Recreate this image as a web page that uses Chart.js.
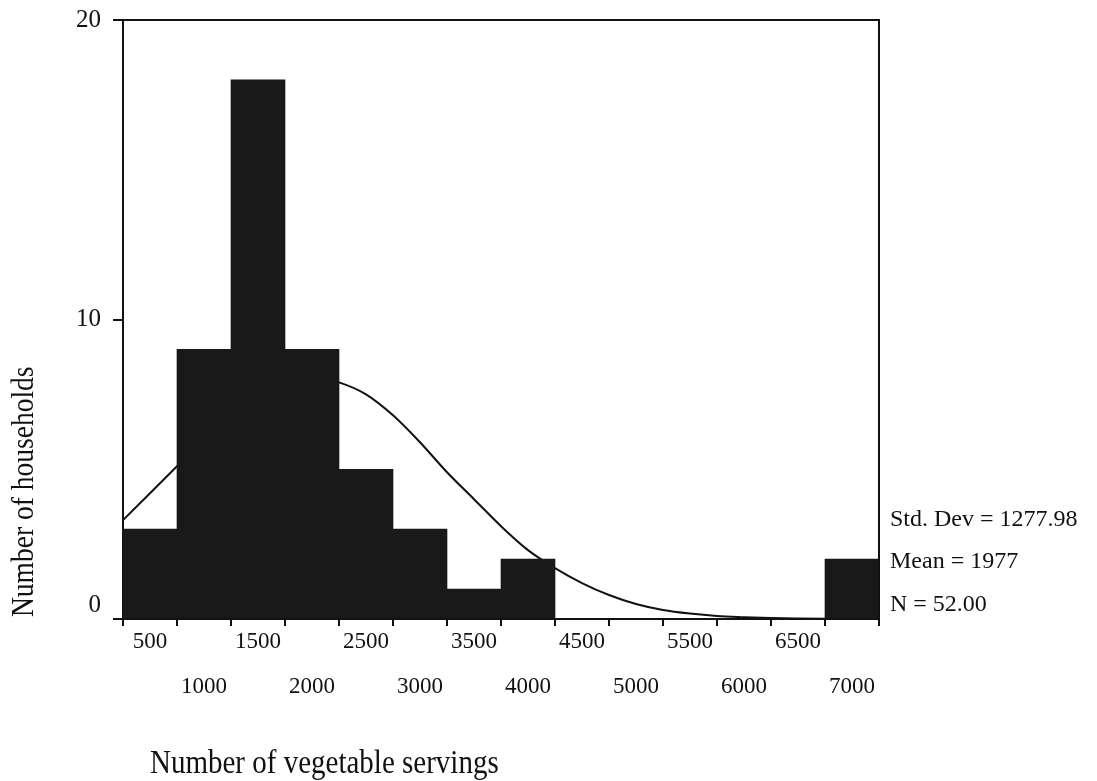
<!DOCTYPE html>
<html>
<head>
<meta charset="utf-8">
<script src="https://cdn.jsdelivr.net/npm/chart.js@4/dist/chart.umd.min.js"></script>
<style>
  html, body { margin: 0; padding: 0; background: #ffffff; }
  #c { display: block; }
</style>
</head>
<body>
<canvas id="c" width="1097" height="781"></canvas>
<script>
// Histogram bins (centre of each 500-serving bin) and household counts
const binCenters = [500, 1000, 1500, 2000, 2500, 3000, 3500, 4000, 4500, 5000, 5500, 6000, 6500, 7000];
const householdCounts = [3, 9, 18, 9, 5, 3, 1, 2, 0, 0, 0, 0, 0, 2];

// Fitted normal curve, sampled every 250 servings
const curveX = [250, 500, 750, 1000, 1250, 1500, 1750, 2000, 2250, 2500, 2750, 3000, 3250, 3500,
                3750, 4000, 4250, 4500, 4750, 5000, 5250, 5500, 5750, 6000, 6250, 6500, 6750, 7000, 7250];
const curveY = [3.3, 4.2, 5.1, 6.0, 6.9, 7.6, 8.0, 8.1, 7.9, 7.5, 6.8, 5.9, 4.9, 4.0,
                3.1, 2.3, 1.7, 1.2, 0.8, 0.5, 0.3, 0.18, 0.1, 0.06, 0.03, 0.015, 0.007, 0.003, 0.001];

// Axis ticks and texts
const xTickValues = [500, 1000, 1500, 2000, 2500, 3000, 3500, 4000, 4500, 5000, 5500, 6000, 6500, 7000];
const yTickValues = [0, 10, 20];
const statLines = ['Std. Dev = 1277.98', 'Mean = 1977', 'N = 52.00'];
const xTitle = 'Number of vegetable servings';
const yTitle = 'Number of households';

const INK = '#111111';
const SERIF = '"Liberation Serif", "DejaVu Serif", serif';

// Plot box inside the 1097x781 canvas
const PLOT = { left: 123, right: 879, top: 20, bottom: 619 };
const W = 1097, H = 781;

const barData = binCenters.map((x, i) => ({ x: x, y: householdCounts[i] }));
const lineData = curveX.map((x, i) => ({ x: x, y: curveY[i] }));

const decorations = {
  id: 'decorations',
  afterDraw(chart) {
    const ctx = chart.ctx;
    const area = chart.chartArea;
    const ys = chart.scales.y;
    ctx.save();

    // top and right frame lines
    ctx.strokeStyle = INK;
    ctx.lineWidth = 2;
    ctx.beginPath();
    ctx.moveTo(area.left, area.top);
    ctx.lineTo(area.right, area.top);
    ctx.lineTo(area.right, area.bottom);
    ctx.stroke();

    // y tick labels (the bottom one sits just above the axis line)
    ctx.fillStyle = INK;
    ctx.font = '25px ' + SERIF;
    ctx.textAlign = 'right';
    ctx.textBaseline = 'middle';
    yTickValues.forEach(v => {
      const py = Math.min(ys.getPixelForValue(v), area.bottom - 14);
      ctx.fillText(String(v), area.left - 22, py);
    });

    // summary statistics to the right of the plot
    ctx.font = '24px ' + SERIF;
    ctx.textAlign = 'left';
    ctx.textBaseline = 'alphabetic';
    const statBaselines = [526, 568, 611];
    statLines.forEach((t, i) => ctx.fillText(t, area.right + 11, statBaselines[i]));

    // x axis title (slightly tall lettering)
    ctx.save();
    ctx.font = '29px ' + SERIF;
    ctx.translate(150, 773);
    ctx.scale(1, 1.15);
    ctx.fillText(xTitle, 0, 0);
    ctx.restore();

    // y axis title, rotated
    ctx.translate(33, 617);
    ctx.rotate(-Math.PI / 2);
    ctx.scale(1, 1.15);
    ctx.font = '27.5px ' + SERIF;
    ctx.fillText(yTitle, 0, 0);
    ctx.restore();
  }
};

new Chart(document.getElementById('c'), {
  type: 'bar',
  data: {
    datasets: [
      {
        type: 'bar',
        data: barData,
        backgroundColor: '#191919',
        borderWidth: 0,
        barPercentage: 1.0,
        categoryPercentage: 1.0,
        grouped: false,
        order: 0
      },
      {
        type: 'line',
        data: lineData,
        borderColor: INK,
        borderWidth: 2,
        pointRadius: 0,
        fill: false,
        cubicInterpolationMode: 'monotone',
        order: 1
      }
    ]
  },
  options: {
    responsive: false,
    animation: false,
    devicePixelRatio: 1,
    layout: { padding: { left: 0, top: PLOT.top, right: W - PLOT.right, bottom: 0 } },
    plugins: { legend: { display: false }, tooltip: { enabled: false } },
    scales: {
      x: {
        type: 'linear',
        min: 250,
        max: 7250,
        offset: false,
        afterBuildTicks: s => { s.ticks = xTickValues.map(v => ({ value: v })); },
        afterFit: s => { s.height = H - PLOT.bottom; },
        ticks: {
          autoSkip: false,
          maxRotation: 0,
          minRotation: 0,
          padding: -7,
          color: INK,
          font: { family: SERIF, size: 23, lineHeight: '45px' },
          callback: v => ((v / 500) % 2 === 1 ? [String(v), ''] : ['', String(v)])
        },
        grid: { drawOnChartArea: false, drawTicks: true, tickLength: 7, color: INK, lineWidth: 2 },
        border: { display: true, color: INK, width: 2 }
      },
      y: {
        min: 0,
        max: 20,
        afterBuildTicks: s => { s.ticks = yTickValues.map(v => ({ value: v })); },
        afterFit: s => { s.width = PLOT.left; },
        ticks: { display: false },
        grid: { drawOnChartArea: false, drawTicks: true, tickLength: 10, color: INK, lineWidth: 2 },
        border: { display: true, color: INK, width: 2 }
      }
    }
  },
  plugins: [decorations]
});
</script>
</body>
</html>
